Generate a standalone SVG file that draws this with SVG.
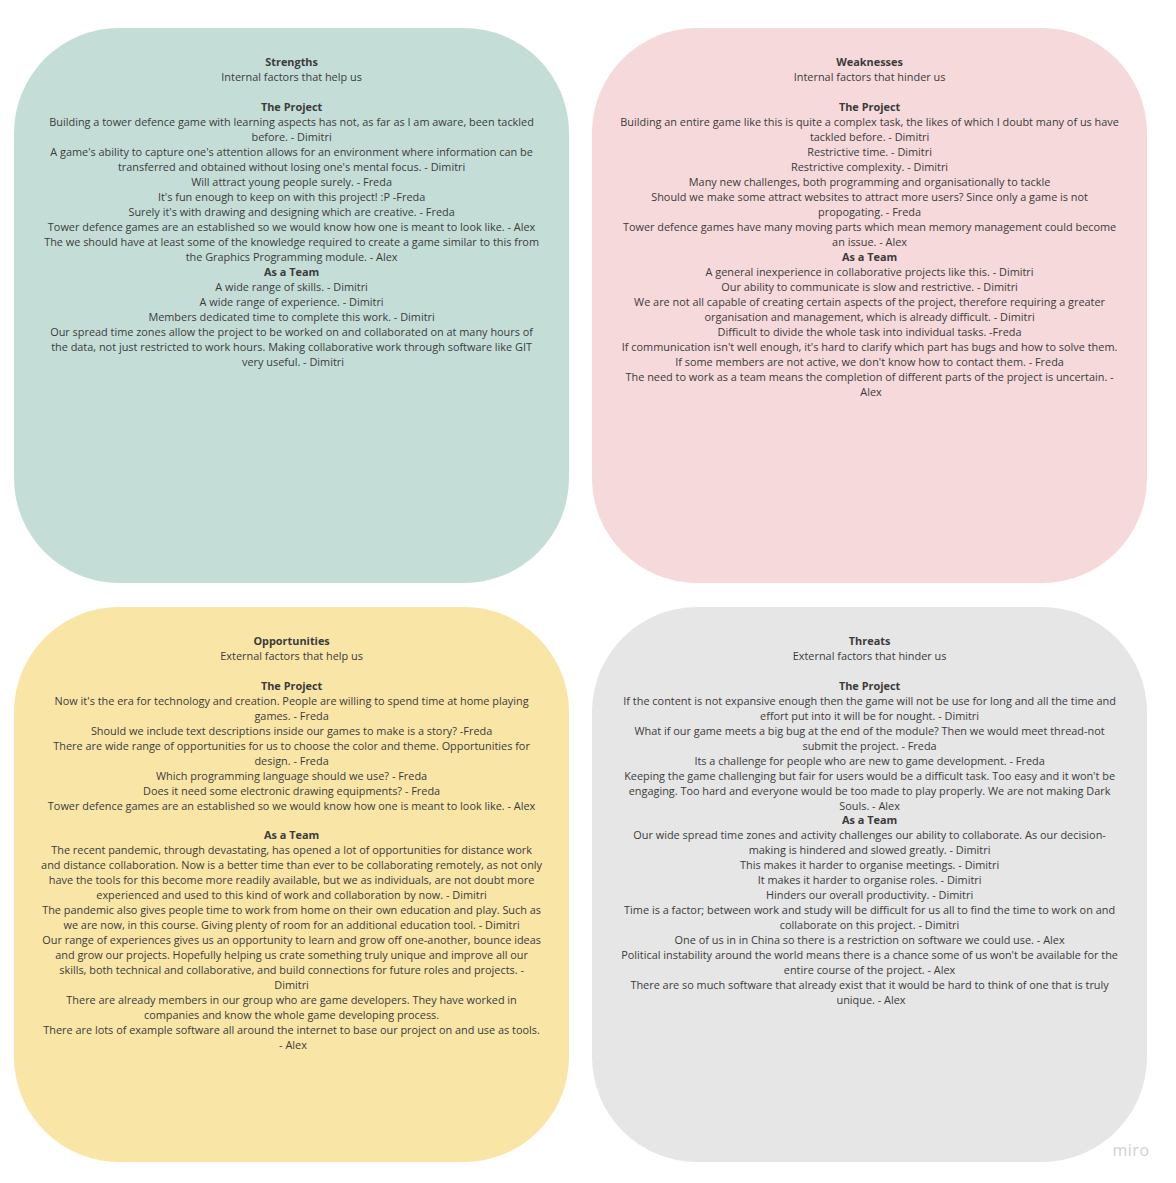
<svg xmlns="http://www.w3.org/2000/svg" width="1176" height="1183" viewBox="0 0 1176 1183">
<style>
.t{font-family:"Open Sans","Noto Sans","Liberation Sans",sans-serif;font-size:10.9px;fill:#3b3b3b;text-anchor:middle}
.b{font-weight:bold}
</style>
<rect width="1176" height="1183" fill="#ffffff"/>
<g id="strengths">
<rect x="14" y="28" width="555" height="555" rx="105" fill="#c4ded7"/>
<text class="t" x="293" y="66">
<tspan x="293" class="b">Strengths</tspan>
<tspan x="293" dy="15">Internal factors that help us</tspan>
<tspan x="293" dy="30" class="b">The Project</tspan>
<tspan x="293" dy="15">Building a tower defence game with learning aspects has not, as far as I am aware, been tackled</tspan>
<tspan x="293" dy="15">before. - Dimitri</tspan>
<tspan x="293" dy="15">A game's ability to capture one's attention allows for an environment where information can be</tspan>
<tspan x="293" dy="15">transferred and obtained without losing one's mental focus. - Dimitri</tspan>
<tspan x="293" dy="15">Will attract young people surely. - Freda</tspan>
<tspan x="293" dy="15">It's fun enough to keep on with this project! :P -Freda</tspan>
<tspan x="293" dy="15">Surely it's with drawing and designing which are creative. - Freda</tspan>
<tspan x="293" dy="15">Tower defence games are an established so we would know how one is meant to look like. - Alex</tspan>
<tspan x="293" dy="15">The we should have at least some of the knowledge required to create a game similar to this from</tspan>
<tspan x="293" dy="15">the Graphics Programming module. - Alex</tspan>
<tspan x="293" dy="15" class="b">As a Team</tspan>
<tspan x="293" dy="15">A wide range of skills. - Dimitri</tspan>
<tspan x="293" dy="15">A wide range of experience. - Dimitri</tspan>
<tspan x="293" dy="15">Members dedicated time to complete this work. - Dimitri</tspan>
<tspan x="293" dy="15">Our spread time zones allow the project to be worked on and collaborated on at many hours of</tspan>
<tspan x="293" dy="15">the data, not just restricted to work hours. Making collaborative work through software like GIT</tspan>
<tspan x="293" dy="15">very useful. - Dimitri</tspan>
</text>
</g>
<g id="weaknesses">
<rect x="592" y="28" width="555" height="555" rx="105" fill="#f6d9da"/>
<text class="t" x="871" y="66">
<tspan x="871" class="b">Weaknesses</tspan>
<tspan x="871" dy="15">Internal factors that hinder us</tspan>
<tspan x="871" dy="30" class="b">The Project</tspan>
<tspan x="871" dy="15">Building an entire game like this is quite a complex task, the likes of which I doubt many of us have</tspan>
<tspan x="871" dy="15">tackled before. - Dimitri</tspan>
<tspan x="871" dy="15">Restrictive time. - Dimitri</tspan>
<tspan x="871" dy="15">Restrictive complexity. - Dimitri</tspan>
<tspan x="871" dy="15">Many new challenges, both programming and organisationally to tackle</tspan>
<tspan x="871" dy="15">Should we make some attract websites to attract more users? Since only a game is not</tspan>
<tspan x="871" dy="15">propogating. - Freda</tspan>
<tspan x="871" dy="15">Tower defence games have many moving parts which mean memory management could become</tspan>
<tspan x="871" dy="15">an issue. - Alex</tspan>
<tspan x="871" dy="15" class="b">As a Team</tspan>
<tspan x="871" dy="15">A general inexperience in collaborative projects like this. - Dimitri</tspan>
<tspan x="871" dy="15">Our ability to communicate is slow and restrictive. - Dimitri</tspan>
<tspan x="871" dy="15">We are not all capable of creating certain aspects of the project, therefore requiring a greater</tspan>
<tspan x="871" dy="15">organisation and management, which is already difficult. - Dimitri</tspan>
<tspan x="871" dy="15">Difficult to divide the whole task into individual tasks. -Freda</tspan>
<tspan x="871" dy="15">If communication isn't well enough, it's hard to clarify which part has bugs and how to solve them.</tspan>
<tspan x="871" dy="15">If some members are not active, we don't know how to contact them. - Freda</tspan>
<tspan x="871" dy="15">The need to work as a team means the completion of different parts of the project is uncertain. -</tspan>
<tspan x="871" dy="15">Alex</tspan>
</text>
</g>
<g id="opportunities">
<rect x="14" y="607" width="555" height="555" rx="105" fill="#f9e6a6"/>
<text class="t" x="293" y="645">
<tspan x="293" class="b">Opportunities</tspan>
<tspan x="293" dy="15">External factors that help us</tspan>
<tspan x="293" dy="30" class="b">The Project</tspan>
<tspan x="293" dy="15">Now it's the era for technology and creation. People are willing to spend time at home playing</tspan>
<tspan x="293" dy="15">games. - Freda</tspan>
<tspan x="293" dy="15">Should we include text descriptions inside our games to make is a story? -Freda</tspan>
<tspan x="293" dy="15">There are wide range of opportunities for us to choose the color and theme. Opportunities for</tspan>
<tspan x="293" dy="15">design. - Freda</tspan>
<tspan x="293" dy="15">Which programming language should we use? - Freda</tspan>
<tspan x="293" dy="15">Does it need some electronic drawing equipments? - Freda</tspan>
<tspan x="293" dy="15">Tower defence games are an established so we would know how one is meant to look like. - Alex</tspan>
<tspan x="293" dy="29" class="b">As a Team</tspan>
<tspan x="293" dy="15">The recent pandemic, through devastating, has opened a lot of opportunities for distance work</tspan>
<tspan x="293" dy="15">and distance collaboration. Now is a better time than ever to be collaborating remotely, as not only</tspan>
<tspan x="293" dy="15">have the tools for this become more readily available, but we as individuals, are not doubt more</tspan>
<tspan x="293" dy="15">experienced and used to this kind of work and collaboration by now. - Dimitri</tspan>
<tspan x="293" dy="15">The pandemic also gives people time to work from home on their own education and play. Such as</tspan>
<tspan x="293" dy="15">we are now, in this course. Giving plenty of room for an additional education tool. - Dimitri</tspan>
<tspan x="293" dy="15">Our range of experiences gives us an opportunity to learn and grow off one-another, bounce ideas</tspan>
<tspan x="293" dy="15">and grow our projects. Hopefully helping us crate something truly unique and improve all our</tspan>
<tspan x="293" dy="15">skills, both technical and collaborative, and build connections for future roles and projects. -</tspan>
<tspan x="293" dy="15">Dimitri</tspan>
<tspan x="293" dy="15">There are already members in our group who are game developers. They have worked in</tspan>
<tspan x="293" dy="15">companies and know the whole game developing process.</tspan>
<tspan x="293" dy="15">There are lots of example software all around the internet to base our project on and use as tools.</tspan>
<tspan x="293" dy="15">- Alex</tspan>
</text>
</g>
<g id="threats">
<rect x="592" y="607" width="555" height="555" rx="105" fill="#e6e6e6"/>
<text class="t" x="871" y="645">
<tspan x="871" class="b">Threats</tspan>
<tspan x="871" dy="15">External factors that hinder us</tspan>
<tspan x="871" dy="30" class="b">The Project</tspan>
<tspan x="871" dy="15">If the content is not expansive enough then the game will not be use for long and all the time and</tspan>
<tspan x="871" dy="15">effort put into it will be for nought. - Dimitri</tspan>
<tspan x="871" dy="15">What if our game meets a big bug at the end of the module? Then we would meet thread-not</tspan>
<tspan x="871" dy="15">submit the project. - Freda</tspan>
<tspan x="871" dy="15">Its a challenge for people who are new to game development. - Freda</tspan>
<tspan x="871" dy="15">Keeping the game challenging but fair for users would be a difficult task. Too easy and it won't be</tspan>
<tspan x="871" dy="15">engaging. Too hard and everyone would be too made to play properly. We are not making Dark</tspan>
<tspan x="871" dy="15">Souls. - Alex</tspan>
<tspan x="871" dy="14" class="b">As a Team</tspan>
<tspan x="871" dy="15">Our wide spread time zones and activity challenges our ability to collaborate. As our decision-</tspan>
<tspan x="871" dy="15">making is hindered and slowed greatly. - Dimitri</tspan>
<tspan x="871" dy="15">This makes it harder to organise meetings. - Dimitri</tspan>
<tspan x="871" dy="15">It makes it harder to organise roles. - Dimitri</tspan>
<tspan x="871" dy="15">Hinders our overall productivity. - Dimitri</tspan>
<tspan x="871" dy="15">Time is a factor; between work and study will be difficult for us all to find the time to work on and</tspan>
<tspan x="871" dy="15">collaborate on this project. - Dimitri</tspan>
<tspan x="871" dy="15">One of us in in China so there is a restriction on software we could use. - Alex</tspan>
<tspan x="871" dy="15">Political instability around the world means there is a chance some of us won't be available for the</tspan>
<tspan x="871" dy="15">entire course of the project. - Alex</tspan>
<tspan x="871" dy="15">There are so much software that already exist that it would be hard to think of one that is truly</tspan>
<tspan x="871" dy="15">unique. - Alex</tspan>
</text>
</g>
<text x="1131" y="1156" font-family="Open Sans, Noto Sans, sans-serif" font-size="16" fill="#d0d0d0" text-anchor="middle" letter-spacing="0.5">miro</text>
</svg>
